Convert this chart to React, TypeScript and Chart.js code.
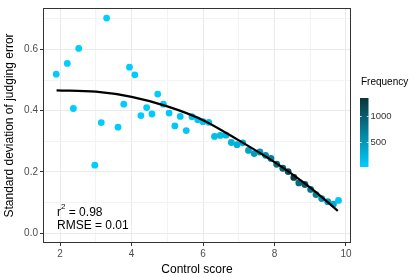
import React, { useEffect, useRef } from "react";
import { Chart, registerables } from "chart.js";

Chart.register(...registerables);

const controlScore = [1.89, 2.2, 2.37, 2.52, 2.97, 3.15, 3.3, 3.62, 3.78, 3.94, 4.09, 4.26, 4.42, 4.57, 4.73, 4.89, 5.05, 5.21, 5.36, 5.53, 5.69, 5.85, 6.0, 6.16, 6.32, 6.48, 6.64, 6.79, 6.95, 7.11, 7.27, 7.43, 7.59, 7.75, 7.9, 8.06, 8.23, 8.38, 8.54, 8.68, 8.85, 9.01, 9.16, 9.32, 9.49, 9.65, 9.79];
const sdError = [0.519, 0.554, 0.407, 0.603, 0.222, 0.361, 0.702, 0.346, 0.421, 0.542, 0.517, 0.384, 0.41, 0.389, 0.454, 0.421, 0.392, 0.35, 0.381, 0.335, 0.38, 0.37, 0.364, 0.362, 0.316, 0.319, 0.32, 0.296, 0.289, 0.295, 0.27, 0.26, 0.265, 0.254, 0.244, 0.225, 0.212, 0.201, 0.182, 0.164, 0.159, 0.143, 0.126, 0.113, 0.103, 0.095, 0.107];
const frequency = [15, 12, 20, 10, 8, 15, 8, 20, 25, 15, 20, 30, 30, 35, 40, 45, 50, 55, 60, 70, 80, 90, 100, 110, 150, 170, 190, 240, 260, 280, 400, 450, 500, 600, 700, 850, 950, 1100, 1300, 900, 1000, 800, 700, 550, 450, 300, 80];

const fitX = [1.9, 3, 4, 5, 6, 7, 8, 9, 9.77];
const fitY = [0.466, 0.462, 0.445, 0.414, 0.369, 0.303, 0.232, 0.149, 0.073];

const xTicks = [2, 3, 4, 5, 6, 7, 8, 9, 10];
const yTicks = [0, 0.1, 0.2, 0.3, 0.4, 0.5, 0.6, 0.7];
const legendTicks = [500, 1000];
const freqMin = 10;
const freqMax = 1350;

const LOW = [0, 206, 255];
const HIGH = [10, 52, 56];

function freqColor(f: number) {
  const t = Math.max(0, Math.min(1, (f - freqMin) / (freqMax - freqMin)));
  const c = LOW.map((l, i) => Math.round(l + (HIGH[i] - l) * t));
  return `rgb(${c[0]},${c[1]},${c[2]})`;
}

const FONT = "'Liberation Sans', Arial, sans-serif";

const overlayPlugin = {
  id: "overlay",
  afterDatasetsDraw(chart: any) {
    const { ctx, chartArea } = chart;
    ctx.save();
    ctx.strokeStyle = "#333333";
    ctx.lineWidth = 1;
    ctx.strokeRect(chartArea.left + 0.5, chartArea.top + 0.5, chartArea.right - chartArea.left - 1, chartArea.bottom - chartArea.top - 1);
    ctx.restore();
  },
  afterDraw(chart: any) {
    const { ctx } = chart;
    ctx.save();
    ctx.fillStyle = "#000";
    ctx.textBaseline = "middle";
    ctx.textAlign = "left";
    ctx.font = `12px ${FONT}`;
    const ax = 57;
    ctx.fillText("r", ax, 213);
    const rw = ctx.measureText("r").width;
    ctx.font = `8px ${FONT}`;
    ctx.fillText("2", ax + rw, 207);
    const w2 = ctx.measureText("2").width;
    ctx.font = `12px ${FONT}`;
    ctx.fillText(" = 0.98", ax + rw + w2, 213);
    ctx.fillText("RMSE = 0.01", ax, 226);

    ctx.font = `10px ${FONT}`;
    ctx.fillStyle = "#000";
    ctx.fillText("Frequency", 361, 82);
    const bx = 360, bw = 8.5, btop = 98, bbot = 167;
    const grad = ctx.createLinearGradient(0, bbot, 0, btop);
    grad.addColorStop(0, freqColor(freqMin));
    grad.addColorStop(0.5, freqColor((freqMin + freqMax) / 2));
    grad.addColorStop(1, freqColor(freqMax));
    ctx.fillStyle = grad;
    ctx.fillRect(bx, btop, bw, bbot - btop);
    const toY = (v: number) => bbot - ((v - freqMin) / (freqMax - freqMin)) * (bbot - btop);
    ctx.strokeStyle = "#ffffff";
    ctx.lineWidth = 0.8;
    legendTicks.forEach((v) => {
      const y = Math.round(toY(v)) + 0.5;
      ctx.beginPath();
      ctx.moveTo(bx, y);
      ctx.lineTo(bx + 1.7, y);
      ctx.moveTo(bx + bw - 1.7, y);
      ctx.lineTo(bx + bw, y);
      ctx.stroke();
      ctx.fillStyle = "#333";
      ctx.font = `9.5px ${FONT}`;
      ctx.fillText(String(v), bx + bw + 2, y);
    });
    ctx.restore();
  },
};

export default function App() {
  const ref = useRef<HTMLCanvasElement>(null);
  useEffect(() => {
    if (!ref.current) return;
    const points = controlScore.map((x, i) => ({ x, y: sdError[i] }));
    const fit = fitX.map((x, i) => ({ x, y: fitY[i] }));
    const chart = new Chart(ref.current, {
      type: "scatter",
      data: {
        datasets: [
          {
            type: "line",
            data: fit,
            borderColor: "#000",
            borderWidth: 2.2,
            pointRadius: 0,
            cubicInterpolationMode: "monotone",
            showLine: true,
            order: 0,
          } as any,
          {
            data: points,
            pointRadius: 3.4,
            pointBorderWidth: 0,
            pointBackgroundColor: frequency.map(freqColor),
            pointBorderColor: frequency.map(freqColor),
            order: 1,
          },
        ],
      },
      options: {
        animation: false,
        responsive: false,
        layout: { padding: { left: 0, right: 64, top: 3, bottom: 0 } },
        plugins: { legend: { display: false }, tooltip: { enabled: false } },
        scales: {
          x: {
            type: "linear",
            min: 1.52,
            max: 10.14,
            afterBuildTicks: (s: any) => { s.ticks = xTicks.map((v) => ({ value: v })); },
            afterFit: (s: any) => { s.height = 34; },
            ticks: {
              color: "#4D4D4D",
              font: { family: FONT, size: 10 },
              padding: 2,
              maxRotation: 0,
              autoSkip: false,
              callback: (v: any) => (Number(v) % 2 === 0 ? String(v) : ""),
            },
            grid: {
              color: (c: any) => (c.tick && c.tick.value % 2 === 0 ? "#EBEBEB" : "#F3F3F3"),
              lineWidth: 1,
              tickLength: 3,
              tickColor: (c: any) => (c.tick && c.tick.value % 2 === 0 ? "#333333" : "rgba(0,0,0,0)"),
            },
            border: { display: false },
            title: { display: true, text: "Control score", color: "#000", font: { family: FONT, size: 12 }, padding: { top: 1, bottom: 0 } },
          },
          y: {
            type: "linear",
            min: -0.032,
            max: 0.735,
            afterBuildTicks: (s: any) => { s.ticks = yTicks.map((v) => ({ value: v })); },
            afterFit: (s: any) => { s.width = 43; },
            ticks: {
              color: "#4D4D4D",
              font: { family: FONT, size: 10 },
              padding: 2,
              autoSkip: false,
              callback: (v: any) => {
                const n = Math.round(Number(v) * 10);
                return n % 2 === 0 ? (n / 10).toFixed(1) : "";
              },
            },
            grid: {
              color: (c: any) => (c.tick && Math.round(c.tick.value * 10) % 2 === 0 ? "#EBEBEB" : "#F3F3F3"),
              lineWidth: 1,
              tickLength: 3,
              tickColor: (c: any) => (c.tick && Math.round(c.tick.value * 10) % 2 === 0 ? "#333333" : "rgba(0,0,0,0)"),
            },
            border: { display: false },
            title: { display: true, text: "Standard deviation of judging error", color: "#000", font: { family: FONT, size: 12 }, padding: { top: 2, bottom: 2 } },
          },
        },
      },
      plugins: [overlayPlugin],
    });
    return () => chart.destroy();
  }, []);
  return (
    <div style={{ position: "fixed", left: 0, top: 0, width: 415, height: 277, background: "#fff" }}>
      <canvas ref={ref} width={415} height={277} style={{ width: 415, height: 277 }} />
    </div>
  );
}
